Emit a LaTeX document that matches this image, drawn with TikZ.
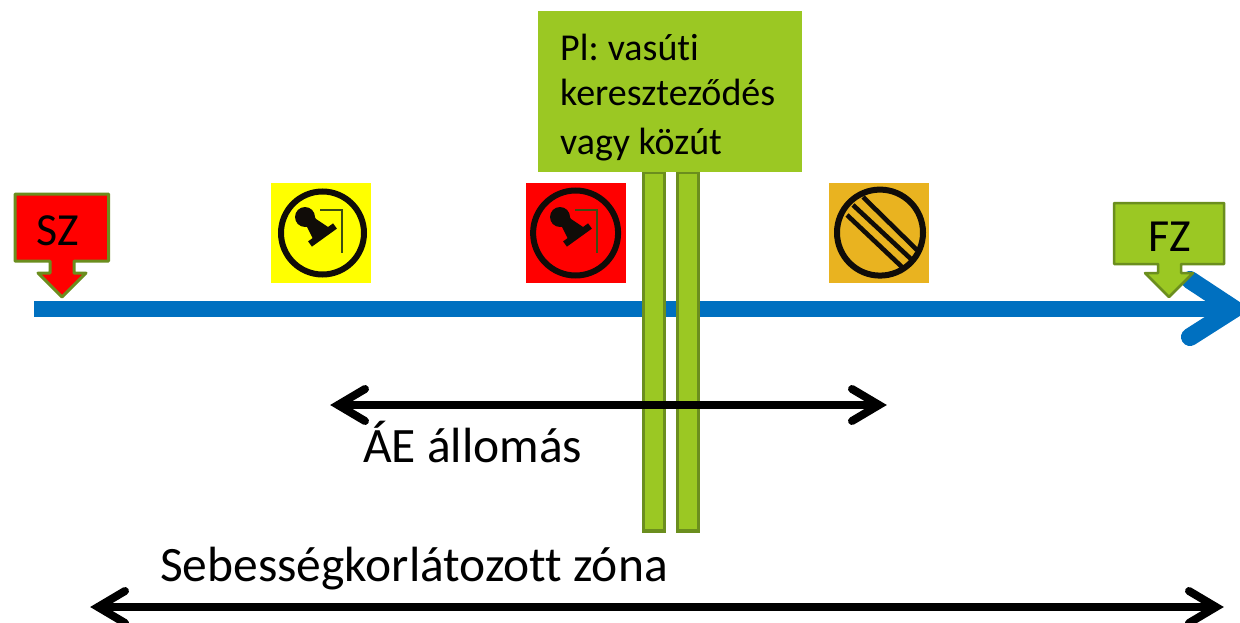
\documentclass[tikz,border=0pt]{standalone}
\usepackage{fontspec}
\setmainfont[Ligatures=NoCommon]{Carlito}
\definecolor{lime}{HTML}{9BC823}
\definecolor{olive2}{HTML}{6B8E1E}
\definecolor{blue2}{HTML}{0070C0}
\definecolor{amber}{HTML}{E9B320}
\definecolor{signyellow}{HTML}{FFFF00}
\definecolor{signred}{HTML}{FF0000}
\definecolor{signblack}{HTML}{100C08}
\tikzset{
  x=1pt,y=-1pt,
  signbox/.style={minimum width=100pt,minimum height=100pt,inner sep=0pt,draw=none},
  callout/.style={draw=olive2,line width=3pt,line join=round},
  rail/.style={fill=lime,draw=olive2,line width=3.2pt},
  mainline/.style={blue2,line width=16pt},
  chevron/.style={blue2,line width=18pt,line cap=round,line join=miter},
  dim/.style={black,line width=8pt},
  dimhead/.style={black,line width=8pt,line cap=round,line join=miter},
  lbl/.style={inner sep=0pt,anchor=base west,font=\fontsize{49.5}{52}\selectfont},
  boxlbl/.style={inner sep=0pt,anchor=base west,font=\fontsize{38}{42}\selectfont},
  calloutlbl/.style={inner sep=0pt,anchor=center,font=\fontsize{46}{48}\selectfont},
  ring/.style={draw=signblack,line width=6pt,fill=none},
  stripe/.style={signblack,line width=4.6pt},
  stampsign/.pic={
    \fill[signblack] (34,34) circle (10);
    \fill[signblack] (39,26) -- (45,36) -- (57,44) -- (59,47) -- (44,59) -- (41,54) -- (36,44) -- (26,40) -- cycle;
    \draw[signblack,line width=6.5pt] (39,61) -- (64,43);
    \draw[olive2!50!signblack,line width=2pt] (49,27) -- (71,27) -- (71,70);
  }
}
\begin{document}
\begin{tikzpicture}
\useasboundingbox (0,0) rectangle (1240,623);
\fill[white] (0,0) rectangle (1240,623);
% main line
\coordinate (mainS) at (34,309);
\coordinate (mainE) at (1226,309);
\coordinate (chevU) at (1190,280);
\coordinate (chevT) at (1234,309);
\coordinate (chevD) at (1190,337);
\draw[mainline] (mainS) -- (mainE);
\draw[chevron] (chevU) -- (chevT) -- (chevD);
% signs
\node[signbox,fill=signyellow] (yellowsign) at (321,233) {};
\pic at (271,183) {stampsign};
\draw[ring] (322.5,233) circle (41.5);
\node[signbox,fill=signred] (redsign) at (576,233) {};
\pic at (526,183) {stampsign};
\draw[ring] (575.6,233) circle (42.5);
\node[signbox,fill=amber] (amberSign) at (879,233) {};
\draw[ring] (880,232.6) circle (43);
\draw[stripe] (863,197) -- (917,250);
\draw[stripe] (853,205) -- (912,260);
\draw[stripe] (847,215) -- (902,267);
% rails
\draw[rail] (643.5,172) rectangle (664.5,531);
\draw[rail] (677.5,172) rectangle (698.5,531);
% green box
\node[fill=lime,minimum width=264pt,minimum height=161pt,inner sep=0pt] (note) at (670,91.5) {};
\node[boxlbl] (l1) at (560,61) {Pl:\kern0.5pt\ vasúti};
\node[boxlbl] (l2) at (560,106) {kereszteződés};
\node[boxlbl] (l3) at (560,154) {vagy közút};
% callouts
\fill[signred] (15,194) -- (108.5,194) -- (108.5,261) -- (74,261) -- (74,273) -- (86,273) -- (62,297) -- (38,273) -- (50,273) -- (50,261) -- (15,261) -- cycle;
\draw[callout] (15,194) -- (108.5,194) -- (108.5,261) -- (74,261) -- (74,273) -- (86,273) -- (62,297) -- (38,273) -- (50,273) -- (50,261) -- (15,261) -- cycle;
\node[calloutlbl] (sz) at (58,231) {SZ};
\fill[lime] (1114,203) -- (1224,203) -- (1224,264) -- (1181,264) -- (1181,273) -- (1193,273) -- (1169,297) -- (1145,273) -- (1158,273) -- (1158,264) -- (1114,264) -- cycle;
\draw[callout,line width=2.5pt] (1114,203) -- (1224,203) -- (1224,264) -- (1181,264) -- (1181,273) -- (1193,273) -- (1169,297) -- (1145,273) -- (1158,273) -- (1158,264) -- (1114,264) -- cycle;
\node[calloutlbl] (fz) at (1170,237) {FZ};
% dimension arrows
\coordinate (aeL) at (338,405);
\coordinate (aeR) at (879,405);
\draw[dim] (aeL) -- (aeR);
\draw[dimhead] (365,389) -- (338,405) -- (365,421);
\draw[dimhead] (852,389) -- (879,405) -- (852,421);
\node[lbl] (ae) at (363,462) {ÁE állomás};
\coordinate (sebL) at (98,607);
\coordinate (sebR) at (1216,607);
\draw[dim] (sebL) -- (sebR);
\draw[dimhead] (125,591) -- (98,607) -- (125,623);
\draw[dimhead] (1189,591) -- (1216,607) -- (1189,623);
\node[lbl] (seb) at (160,581.5) {Sebességkorlátozott zóna};
\end{tikzpicture}
\end{document}
